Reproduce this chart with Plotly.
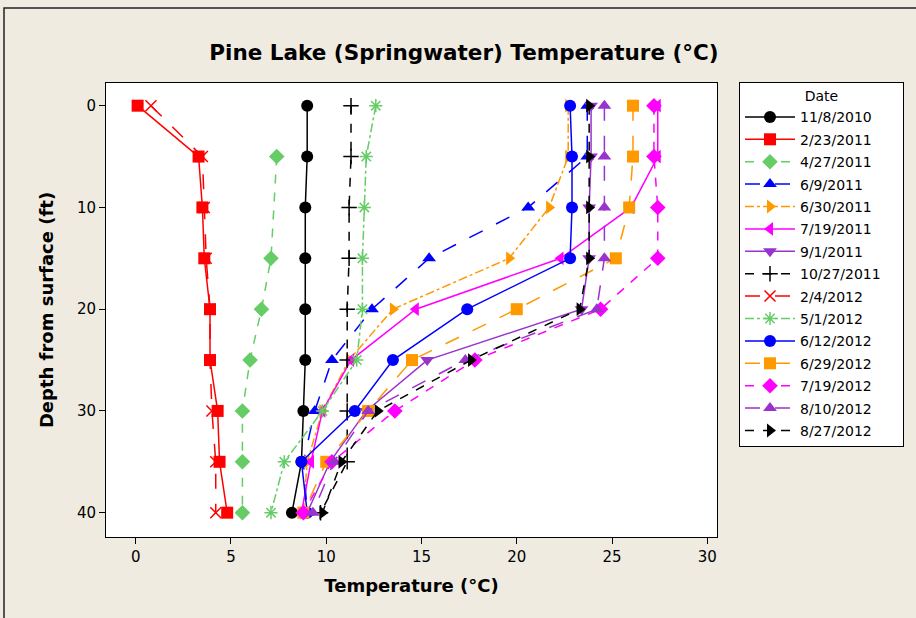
import plotly.graph_objects as go

depths = [0, 5, 10, 15, 20, 25, 30, 35, 40]

dates = ["11/8/2010", "2/23/2011", "4/27/2011", "6/9/2011", "6/30/2011",
         "7/19/2011", "9/1/2011", "10/27/2011", "2/4/2012", "5/1/2012",
         "6/12/2012", "6/29/2012", "7/19/2012", "8/10/2012", "8/27/2012"]

t_11_8_2010 = [9.0, 9.0, 8.9, 8.9, 8.9, 8.9, 8.8, 8.7, 8.2]
t_2_23_2011 = [0.1, 3.3, 3.5, 3.6, 3.9, 3.9, 4.3, 4.4, 4.8]
t_4_27_2011 = [None, 7.4, None, 7.1, 6.6, 6.0, 5.6, 5.6, 5.6]
t_6_9_2011 = [23.7, 23.7, 20.6, 15.4, 12.4, 10.3, 9.4, 8.8, 9.0]
t_6_30_2011 = [22.7, 22.7, 21.7, 19.6, 13.5, 11.2, 9.8, 9.0, 8.8]
t_7_19_2011 = [27.4, 27.4, 26.0, 22.3, 14.7, 11.3, 9.8, 9.2, 8.7]
t_9_1_2011 = [23.9, 23.9, 23.8, 23.8, 23.4, 15.3, 12.1, 10.2, 9.0]
t_10_27_2011 = [11.3, 11.3, 11.2, 11.2, 11.1, 11.1, 11.1, 11.1, 9.7]
t_2_4_2012 = [0.8, 3.5, 3.6, 3.7, 3.9, 3.9, 4.0, 4.2, 4.2]
t_5_1_2012 = [12.6, 12.1, 12.0, 11.9, 11.9, 11.6, 9.8, 7.8, 7.1]
t_6_12_2012 = [22.8, 22.9, 22.9, 22.8, 17.4, 13.5, 11.5, 8.7, 9.0]
t_6_29_2012 = [26.1, 26.1, 25.9, 25.2, 20.0, 14.5, 12.2, 10.0, 8.8]
t_7_19_2012 = [27.2, 27.2, 27.4, 27.4, 24.4, 17.8, 13.6, 10.3, 8.8]
t_8_10_2012 = [24.6, 24.6, 24.6, 24.6, 24.2, 17.3, 12.2, 10.4, 9.3]
t_8_27_2012 = [23.8, 23.8, 23.8, 23.8, 23.3, 17.6, 12.7, 10.8, 9.8]

series = [t_11_8_2010, t_2_23_2011, t_4_27_2011, t_6_9_2011, t_6_30_2011,
          t_7_19_2011, t_9_1_2011, t_10_27_2011, t_2_4_2012, t_5_1_2012,
          t_6_12_2012, t_6_29_2012, t_7_19_2012, t_8_10_2012, t_8_27_2012]

colors = ["#000000", "#FF0000", "#66CC66", "#0000FF", "#FF9900",
          "#FF00FF", "#9933CC", "#000000", "#FF0000", "#66CC66",
          "#0000FF", "#FF9900", "#FF00FF", "#9933CC", "#000000"]
symbols = ["circle", "square", "diamond", "triangle-up", "triangle-right",
           "triangle-left", "triangle-down", "cross-thin", "x-thin", "asterisk",
           "circle", "square", "diamond", "triangle-up", "triangle-right"]
dashes = ["solid", "solid", "dash", "longdash", "dashdot",
          "solid", "solid", "dash", "longdash", "dashdot",
          "solid", "longdash", "dash", "longdash", "dash"]

fig = go.Figure()
for name, vals, c, s, d in zip(dates, series, colors, symbols, dashes):
    thin = s in ("cross-thin", "x-thin", "asterisk")
    fig.add_trace(go.Scatter(
        x=vals, y=depths, name=name, mode="lines+markers",
        connectgaps=True, legendgroup=name,
        line=dict(color=c, width=1.5, dash=d),
        marker=dict(symbol=s, size=12 if not thin else 11, color=c,
                    line=dict(color=c, width=1.5 if thin else 0)),
    ))

font = "DejaVu Sans"
pad = "\u00a0" * 14
fig.update_layout(
    width=916, height=618,
    margin=dict(l=106, r=199, t=83, b=81),
    paper_bgcolor="#EFEBE1",
    plot_bgcolor="#FFFFFF",
    font=dict(family=font, size=14, color="#000000"),
    title=dict(text="<b>Pine Lake (Springwater) Temperature (°C)</b>",
               x=464 / 916, xref="container", xanchor="center",
               y=1 - 52 / 618, yanchor="middle",
               font=dict(family=font, size=21.5, color="#000000")),
    showlegend=True,
    legend=dict(
        x=1.036, xanchor="left", y=1.002, yanchor="top",
        bordercolor="#000000", borderwidth=1, bgcolor="#FFFFFF",
        font=dict(family=font, size=14),
        title=dict(text=pad + "Date" + pad, side="top center", font=dict(family=font, size=14)),
        itemwidth=50, tracegroupgap=1.2, maxheight=1.0,
    ),
    xaxis=dict(
        range=[-1.56, 30.51], tickvals=[0, 5, 10, 15, 20, 25, 30],
        showgrid=False, zeroline=False,
        showline=True, linecolor="#000000", linewidth=1, mirror=True,
        ticks="outside", ticklen=6, tickcolor="#000000",
        tickfont=dict(family=font, size=15),
        title=dict(text="<b>Temperature (°C)</b>", font=dict(family=font, size=18), standoff=14),
    ),
    yaxis=dict(
        range=[42.39, -2.23], tickvals=[0, 10, 20, 30, 40],
        showgrid=False, zeroline=False,
        showline=True, linecolor="#000000", linewidth=1, mirror=True,
        ticks="outside", ticklen=6, tickcolor="#000000",
        tickfont=dict(family=font, size=15),
        title=dict(text="<b>Depth from surface (ft)</b>", font=dict(family=font, size=18), standoff=18),
    ),
)

fig.add_shape(type="rect", xref="paper", yref="paper",
              x0=(4 - 106) / 611, x1=1.5, y0=-0.3, y1=(537 - 8) / 454,
              line=dict(color="#222222", width=1.5), fillcolor="rgba(0,0,0,0)",
              layer="below")

fig.write_html("out.html", config={"displayModeBar": False},
               post_script="document.body.style.margin='0';")
